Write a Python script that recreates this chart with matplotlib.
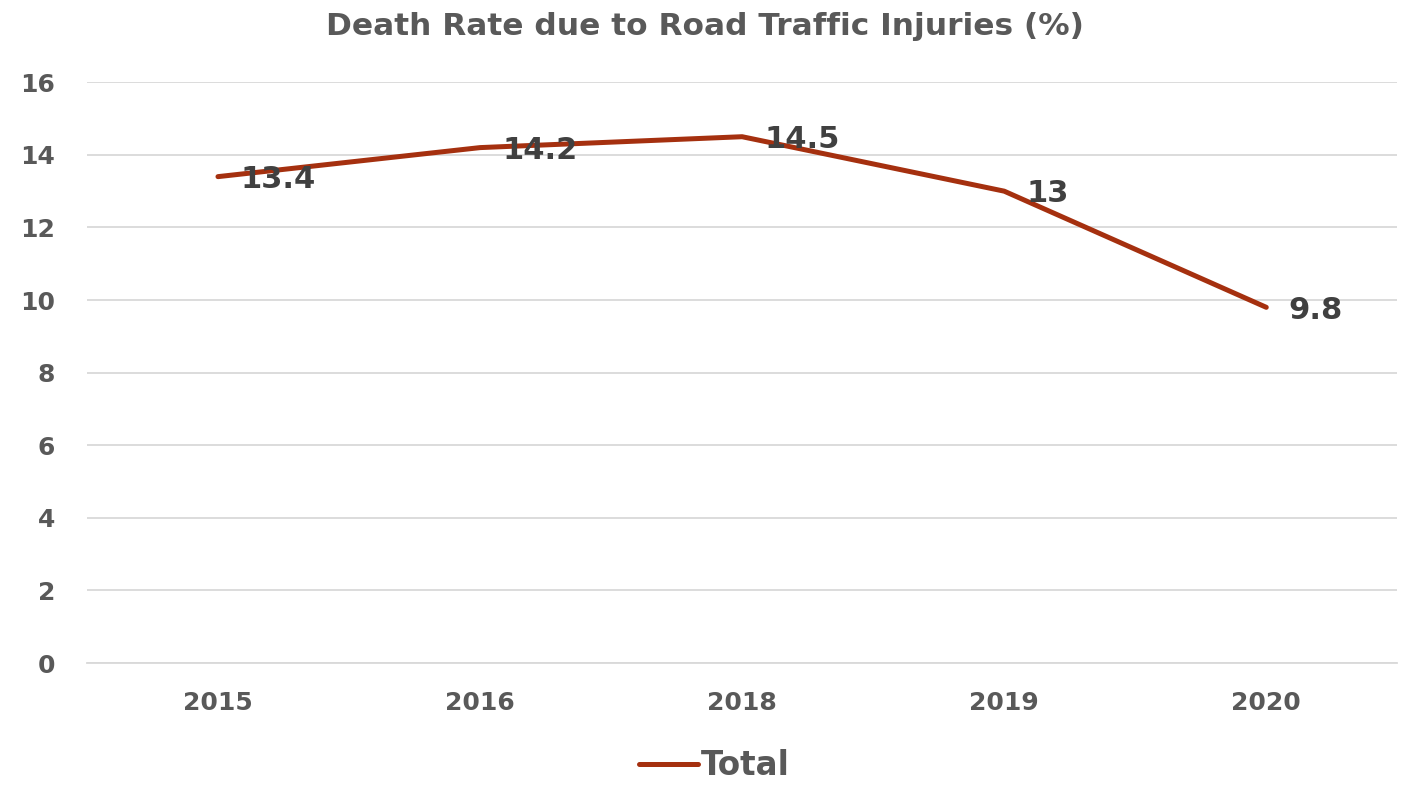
import matplotlib.pyplot as plt

# chart data
years = ["2015", "2016", "2018", "2019", "2020"]
death_rate = [13.4, 14.2, 14.5, 13.0, 9.8]
labels = ["13.4", "14.2", "14.5", "13", "9.8"]

line_color = "#A5300F"
text_gray = "#595959"
label_gray = "#404040"

plt.rcParams["font.family"] = ["DejaVu Sans"]
plt.rcParams["font.weight"] = "bold"

fig = plt.figure(figsize=(14.09, 7.88), dpi=100)
ax = fig.add_axes([0.0617, 0.1586, 0.930, 0.737])

x = list(range(len(years)))
ax.plot(x, death_rate, color=line_color, linewidth=3.6, solid_capstyle="round",
        label="Total", zorder=3)

# data labels, right of and slightly under each point
for xi, yi, lab in zip(x, death_rate, labels):
    ax.annotate(lab, (xi, yi), xytext=(16, -2), textcoords="offset points",
                ha="left", va="center", fontsize=22, fontweight="bold",
                color=label_gray, zorder=4)

ax.set_xlim(-0.5, len(years) - 0.5)
ax.set_ylim(0, 16)
ax.set_yticks(range(0, 17, 2))
ax.set_xticks(x)
ax.set_xticklabels(years)
ax.tick_params(axis="both", length=0, labelsize=18, labelcolor=text_gray)
ax.tick_params(axis="x", pad=20)
ax.tick_params(axis="y", pad=23)
for lab in ax.get_xticklabels() + ax.get_yticklabels():
    lab.set_fontweight("bold")

ax.grid(axis="y", color="#D9D9D9", linewidth=1.3)
ax.set_axisbelow(True)
for side in ["top", "right", "left"]:
    ax.spines[side].set_visible(False)
ax.spines["bottom"].set_color("#D9D9D9")
ax.spines["bottom"].set_linewidth(1.3)

fig.suptitle("Death Rate due to Road Traffic Injuries (%)", x=0.5, y=0.985,
             fontsize=22.5, fontweight="bold", color=text_gray)

leg = fig.legend(loc="lower center", bbox_to_anchor=(0.507, -0.03), frameon=False,
                 fontsize=23.5, handlelength=1.8, handletextpad=0.1)
for t in leg.get_texts():
    t.set_color(text_gray)

fig.savefig("out.png", dpi=100)
